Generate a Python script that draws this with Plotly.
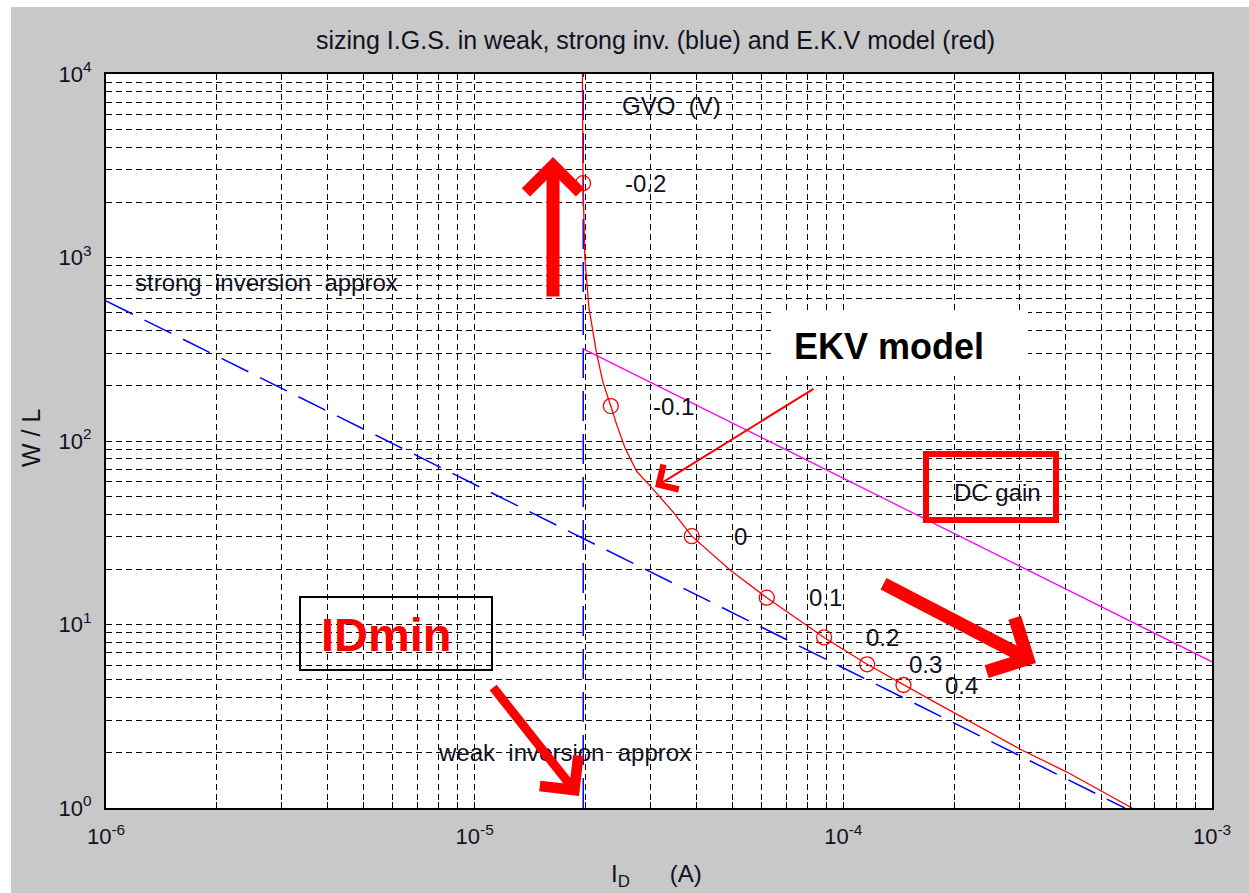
import plotly.graph_objects as go
import numpy as np

# EKV model: W/L versus drain current (continuous curve)
ekv_id = [1.96e-5, 1.968e-5, 1.99e-5, 2.04e-5, 2.14e-5, 2.23e-5, 2.34e-5, 2.43e-5,
          2.56e-5, 2.75e-5, 3.02e-5, 3.46e-5, 3.88e-5, 4.93e-5, 6.2e-5, 8.87e-5,
          1.16e-4, 1.456e-4, 1.755e-4, 2.16e-4, 3.02e-4, 4.04e-4, 6.07e-4]
ekv_wl = [1e4, 2540, 1000, 538, 302, 208, 155, 122,
          91.4, 68.4, 55.7, 40.8, 30.3, 19.8, 14.0, 8.5,
          6.07, 4.68, 3.81, 3.03, 2.09, 1.57, 1.0]

# marked EKV points, labelled with the gate overdrive GVO (V)
gvo_labels = ["-0.2", "-0.1", "0", "0.1", "0.2", "0.3", "0.4"]
gvo_id = [1.968e-5, 2.34e-5, 3.88e-5, 6.2e-5, 8.87e-5, 1.16e-4, 1.456e-4]
gvo_wl = [2540, 155, 30.3, 14.0, 8.5, 6.07, 4.68]

# strong inversion approximation (blue dashed)
si_id = [1e-6, 5.8e-4]
si_wl = [580, 1.0]

# weak inversion approximation: minimum drain current (blue dashed vertical)
wi_id = [1.97e-5, 1.97e-5]
wi_wl = [1.0, 1e4]

# DC gain constraint (magenta)
dc_id = [1.97e-5, 1e-3]
dc_wl = [318, 6.26]

# axis ticks: decades labelled, 2..9 unlabelled (grid only)
x_decades = [-6, -5, -4, -3]
y_decades = [0, 1, 2, 3, 4]


def log_ticks(decades):
    vals, text = [], []
    for e in decades:
        for m in range(1, 10):
            if e == decades[-1] and m > 1:
                break
            vals.append(m * 10.0 ** e)
            text.append(f"10<sup>{e}</sup>" if m == 1 else "")
    return vals, text


xt_vals, xt_text = log_ticks(x_decades)
yt_vals, yt_text = log_ticks(y_decades)

FONT = "Liberation Sans, Arial, sans-serif"
INK = "#111122"
W, H = 1249, 893
L, R, T, B = 106, 37, 74, 85
PW, PH = W - L - R, H - T - B


def px(x):
    return (x - L) / PW


def py(y):
    return (H - B - y) / PH


fig = go.Figure()

fig.add_trace(go.Scatter(x=si_id, y=si_wl, mode="lines",
                         line=dict(color="#0000ff", width=1.5, dash="30px,13px"),
                         hoverinfo="skip", showlegend=False))
fig.add_trace(go.Scatter(x=wi_id, y=wi_wl, mode="lines",
                         line=dict(color="#0000ff", width=1.5, dash="30px,13px"),
                         hoverinfo="skip", showlegend=False))
fig.add_trace(go.Scatter(x=dc_id, y=dc_wl, mode="lines",
                         line=dict(color="#ff00ff", width=1.3),
                         hoverinfo="skip", showlegend=False))
fig.add_trace(go.Scatter(x=ekv_id, y=ekv_wl, mode="lines",
                         line=dict(color="#ff0000", width=1.3),
                         hoverinfo="skip", showlegend=False))
fig.add_trace(go.Scatter(x=gvo_id, y=gvo_wl, mode="markers",
                         marker=dict(symbol="circle-open", size=15, color="#ff0000",
                                     line=dict(width=1.3, color="#ff0000")),
                         hoverinfo="skip", showlegend=False))

axis_common = dict(
    type="log", showgrid=True, gridcolor="black", gridwidth=1, griddash="6px,4px",
    ticks="inside", ticklen=6, tickcolor="black", tickwidth=1,
    showline=True, linecolor="black", linewidth=2, mirror="allticks",
    tickfont=dict(family=FONT, size=22, color=INK),
    zeroline=False,
)

fig.update_xaxes(range=[-6, -3], tickmode="array", tickvals=xt_vals, ticktext=xt_text,
                 ticklabelstandoff=8, **axis_common)
fig.update_yaxes(range=[0, 4], tickmode="array", tickvals=yt_vals, ticktext=yt_text,
                 ticklabelstandoff=8, **axis_common)

annotations = []

# title and axis titles
annotations.append(dict(text="sizing I.G.S. in weak, strong inv. (blue) and E.K.V model (red)",
                        xref="paper", yref="paper", x=px(655), y=py(40),
                        xanchor="center", yanchor="middle", showarrow=False,
                        font=dict(family=FONT, size=25, color=INK)))
annotations.append(dict(text="W / L", textangle=-90,
                        xref="paper", yref="paper", x=px(31), y=py(438),
                        xanchor="center", yanchor="middle", showarrow=False,
                        font=dict(family=FONT, size=25, color=INK)))
annotations.append(dict(text="I<sub>D</sub>\u00a0\u00a0\u00a0\u00a0\u00a0\u00a0(A)",
                        xref="paper", yref="paper", x=px(609), y=py(875),
                        xanchor="left", yanchor="middle", showarrow=False,
                        font=dict(family=FONT, size=24, color=INK)))

# curve labels
text_font = dict(family=FONT, size=24, color=INK)
annotations.append(dict(text="GVO\u00a0\u00a0(V)", xref="paper", yref="paper",
                        x=px(620), y=py(105), xanchor="left", yanchor="middle",
                        showarrow=False, font=text_font))
annotations.append(dict(text="strong\u00a0 inversion\u00a0 approx", xref="paper", yref="paper",
                        x=px(133), y=py(282), xanchor="left", yanchor="middle",
                        showarrow=False, font=text_font))
annotations.append(dict(text="weak\u00a0 inversion\u00a0 approx", xref="paper", yref="paper",
                        x=px(436), y=py(752), xanchor="left", yanchor="middle",
                        showarrow=False, font=text_font))
annotations.append(dict(text="DC\u00a0gain", xref="paper", yref="paper",
                        x=px(952), y=py(493), xanchor="left", yanchor="middle",
                        showarrow=False, font=text_font))

for lab, xi, yi in zip(gvo_labels, gvo_id, gvo_wl):
    annotations.append(dict(text=lab, x=np.log10(xi), y=np.log10(yi), xref="x", yref="y",
                            xanchor="left", yanchor="middle", xshift=40, showarrow=False,
                            font=text_font))

# highlight texts
annotations.append(dict(text="<b>EKV model</b>", xref="paper", yref="paper",
                        x=px(889), y=py(346), xanchor="center", yanchor="middle",
                        showarrow=False, font=dict(family=FONT, size=36, color="black")))
annotations.append(dict(text="<b>IDmin</b>", xref="paper", yref="paper",
                        x=px(386), y=py(634), xanchor="center", yanchor="middle",
                        showarrow=False, font=dict(family=FONT, size=47, color="#ff0000")))


# pointer arrows, tips and tails in axis (log10) units
def lx(p):
    return (p - L) / PW * 3 - 6


def ly(p):
    return (H - B - p) / PH * 4


def arrow(tail, tip, width, size, head=4):
    return dict(text="", x=lx(tip[0]), y=ly(tip[1]), ax=lx(tail[0]), ay=ly(tail[1]),
                xref="x", yref="y", axref="x", ayref="y", showarrow=True,
                arrowhead=head, arrowsize=size, arrowwidth=width, arrowcolor="#ff0000",
                standoff=0, startstandoff=0)


annotations.append(arrow((553, 298), (553, 157), 13, 0.8))
annotations.append(arrow((492, 686), (579, 796), 9, 1.05))
annotations.append(arrow((882, 583), (1036, 663), 13, 0.9))
annotations.append(arrow((815, 388), (655, 487), 2, 2.8))

shapes = [
    # white surround strips of the figure
    dict(type="rect", xref="paper", yref="paper", x0=px(-5), x1=px(11), y0=py(900), y1=py(-5),
         fillcolor="white", line=dict(width=0), layer="below"),
    dict(type="rect", xref="paper", yref="paper", x0=px(-5), x1=px(1260), y0=py(7), y1=py(-5),
         fillcolor="white", line=dict(width=0), layer="below"),
    # EKV label backdrop
    dict(type="rect", xref="paper", yref="paper", x0=px(771), x1=px(1028), y0=py(376), y1=py(312),
         fillcolor="white", line=dict(width=0)),
    # IDmin frame
    dict(type="rect", xref="paper", yref="paper", x0=px(300), x1=px(492), y0=py(670), y1=py(597),
         line=dict(color="black", width=2)),
    # DC gain frame
    dict(type="rect", xref="paper", yref="paper", x0=px(926), x1=px(1056), y0=py(520), y1=py(454),
         line=dict(color="#ff0000", width=6)),
]

fig.update_layout(
    width=W, height=H,
    margin=dict(l=L, r=R, t=T, b=B),
    paper_bgcolor="#c8c8c8", plot_bgcolor="white",
    annotations=annotations, shapes=shapes,
    showlegend=False,
)

fig.write_html("out.html")
